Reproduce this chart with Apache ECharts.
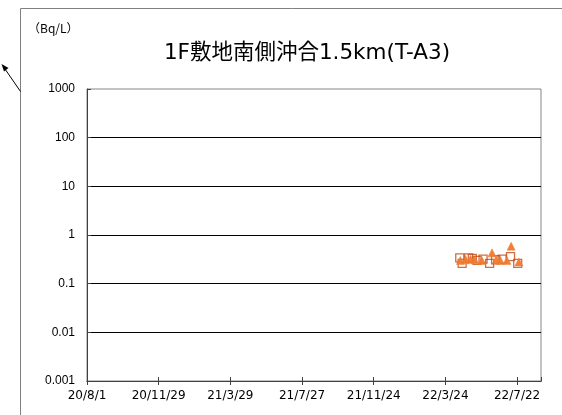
<!DOCTYPE html>
<html><head><meta charset="utf-8">
<script src="https://cdn.jsdelivr.net/npm/echarts@6/dist/echarts.min.js"></script>
<style>html,body{margin:0;padding:0;background:#fff}#c{width:562px;height:415px}</style>
</head><body><div id="c"></div>
<script>
const baseDate = '2020-08-01';
const xTickDates = ['20/8/1','20/11/29','21/3/29','21/7/27','21/11/24','22/3/24','22/7/22'];
const yTickLabels = ['0.001','0.01','0.1','1','10','100','1000'];
const squareDates = ['2022-04-17','2022-04-21','2022-05-02','2022-05-08','2022-05-16','2022-05-26','2022-06-06','2022-06-16','2022-06-27','2022-07-11','2022-07-23'];
const squareValues = [0.34,0.26,0.34,0.33,0.30,0.32,0.26,0.31,0.32,0.36,0.26];
const triangleDates = ['2022-04-18','2022-04-27','2022-05-05','2022-05-12','2022-05-24','2022-06-10','2022-06-17','2022-06-24','2022-07-05','2022-07-12','2022-07-25'];
const triangleValues = [0.30,0.31,0.32,0.31,0.30,0.43,0.31,0.30,0.30,0.59,0.28];

const DAY = 86400000;
const t0 = Date.parse(baseDate + 'T00:00:00Z');
const toDay = s => Math.round((Date.parse(s + 'T00:00:00Z') - t0) / DAY);
const sq = squareDates.map((d, i) => [toDay(d), squareValues[i]]);
const tr = triangleDates.map((d, i) => [toDay(d), triangleValues[i]]);

const chart = echarts.init(document.getElementById('c'));
const xCommon = {
  type: 'value', min: 0, max: 760, interval: 120, position: 'bottom',
  axisLine: {lineStyle: {color: '#404040', width: 1}},
  splitLine: {show: false}
};
chart.setOption({
  animation: false,
  backgroundColor: '#fff',
  title: {
    text: '1F敷地南側沖合1.5km(T-A3)', left: 302, top: 38, textAlign: 'center',
    textStyle: {fontSize: 21.5, fontWeight: 'normal', color: '#000', fontFamily: '"DejaVu Sans", "Noto Sans CJK JP", sans-serif'}
  },
  grid: {left: 87, right: 21, top: 89, bottom: 34, show: true, borderColor: '#868686', borderWidth: 1},
  xAxis: [
    Object.assign({}, xCommon, {
      axisTick: {show: true, inside: false, length: 4, lineStyle: {color: '#404040'}},
      axisLabel: {
        color: '#000', fontSize: 12, margin: 9, fontFamily: '"DejaVu Sans", sans-serif',
        formatter: v => xTickDates[Math.round(v / 120)] || ''
      }
    }),
    Object.assign({}, xCommon, {
      axisTick: {show: true, inside: true, length: 4, lineStyle: {color: '#404040'}},
      axisLabel: {show: false}
    })
  ],
  yAxis: {
    type: 'log', logBase: 10, min: 0.001, max: 1000,
    axisLine: {show: true, lineStyle: {color: '#404040', width: 1}},
    axisTick: {show: true, inside: true, length: 4, lineStyle: {color: '#404040'}},
    splitLine: {show: true, showMinLine: false, showMaxLine: false, lineStyle: {color: '#000', width: 1}},
    axisLabel: {
      color: '#000', fontSize: 12, margin: 12, fontFamily: '"Liberation Sans", sans-serif',
      formatter: v => yTickLabels[Math.round(Math.log10(v)) + 3] || ''
    }
  },
  series: [
    {
      type: 'scatter', data: sq, symbol: 'rect', symbolSize: 8,
      itemStyle: {color: 'rgba(255,255,255,0)', borderColor: '#C04A15', borderWidth: 1.3}
    },
    {
      type: 'scatter', data: tr, symbol: 'triangle', symbolSize: 8,
      itemStyle: {color: '#EF7A2E', borderColor: '#EF7A2E', borderWidth: 0.5, opacity: 0.95}
    }
  ],
  graphic: [
    {type: 'rect', shape: {x: 20.5, y: 8.5, width: 600, height: 500}, style: {fill: 'none', stroke: '#808080', lineWidth: 1}, silent: true, z: -1},
    {type: 'text', left: 28, top: 22, style: {text: '（Bq/L）', fontSize: 12, fill: '#000', fontFamily: '"Noto Sans CJK JP", sans-serif'}},
    {type: 'line', shape: {x1: 20.5, y1: 91.5, x2: 5, y2: 69}, style: {stroke: '#000', lineWidth: 1}},
    {type: 'polygon', shape: {points: [[1.5, 64], [8.5, 68], [4, 71.5]]}, style: {fill: '#000'}}
  ]
});
</script></body></html>
